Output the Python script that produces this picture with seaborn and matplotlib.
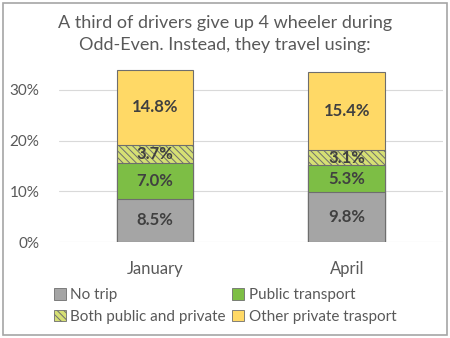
import matplotlib
matplotlib.use("Agg")
import matplotlib.pyplot as plt
import matplotlib.patches as mpatches
import numpy as np
import pandas as pd
import seaborn as sns

months = ["January", "April"]
series = ["No trip", "Public transport", "Both public and private", "Other private trasport"]
no_trip = [8.5, 9.8]
public = [7.0, 5.3]
both = [3.7, 3.1]
other = [14.8, 15.4]
yticks = [0, 10, 20, 30]
ytick_labels = ["0%", "10%", "20%", "30%"]

colors = ["#A5A5A5", "#7DBE45", "#D6E074", "#FFD966"]
hatches = [None, None, "\\\\\\\\\\", None]

sns.set_theme(style="white")
plt.rcParams["font.family"] = ["Lato", "DejaVu Sans"]
plt.rcParams["hatch.color"] = "#A6C24A"
plt.rcParams["hatch.linewidth"] = 0.7

vals = [no_trip, public, both, other]
cum = np.cumsum(np.array(vals), axis=0)

fig = plt.figure(figsize=(4.5, 3.38), dpi=100)
ax = fig.add_axes([0.131, 0.284, 0.853, 0.525])

# draw from top (largest cumulative) to bottom so lower segments overlay
for i in range(3, -1, -1):
    df = pd.DataFrame({"month": months, "value": cum[i]})
    sns.barplot(data=df, x="month", y="value", order=months, color=colors[i],
                width=0.4, edgecolor="#6E6E6E", linewidth=0.8, ax=ax,
                hatch=hatches[i], saturation=1, zorder=2)

for i in range(4):
    for j in range(2):
        mid = cum[i][j] - vals[i][j] / 2
        ax.text(j, mid, f"{vals[i][j]:.1f}%", ha="center", va="center",
                fontsize=12, fontweight="bold", color="#404040", zorder=5)

ax.set_ylim(0, 35)
ax.set_xlim(-0.5, 1.5)
ax.set_yticks(yticks)
ax.set_yticklabels(ytick_labels, fontsize=11, color="#595959")
ax.tick_params(axis="y", length=0, pad=14)
ax.tick_params(axis="x", length=0, pad=14, labelsize=12, labelcolor="#595959")
ax.set_xlabel("")
ax.set_ylabel("")
ax.grid(axis="y", color="#D9D9D9", linewidth=0.8, zorder=0)
ax.set_axisbelow(True)
for s in ax.spines.values():
    s.set_visible(False)

fig.suptitle("A third of drivers give up 4 wheeler during\nOdd-Even. Instead, they travel using:",
             y=0.955, fontsize=13, color="#595959", linespacing=1.45)

order = [0, 2, 1, 3]
handles = [mpatches.Patch(facecolor=colors[i], edgecolor="#6E6E6E", linewidth=0.6,
                          hatch=hatches[i], label=series[i]) for i in order]
leg = fig.legend(handles=handles, ncol=2, loc="center", bbox_to_anchor=(0.5, 0.095),
                 frameon=False, fontsize=11, labelcolor="#595959",
                 handlelength=0.8, handleheight=0.8, handletextpad=0.3,
                 columnspacing=0.4, labelspacing=0.5)

fig.patches.append(mpatches.Rectangle((0.007, 0.009), 0.986, 0.982, transform=fig.transFigure,
                                      fill=False, edgecolor="#A6A6A6", linewidth=1.2))

fig.savefig("out.png", dpi=100)
